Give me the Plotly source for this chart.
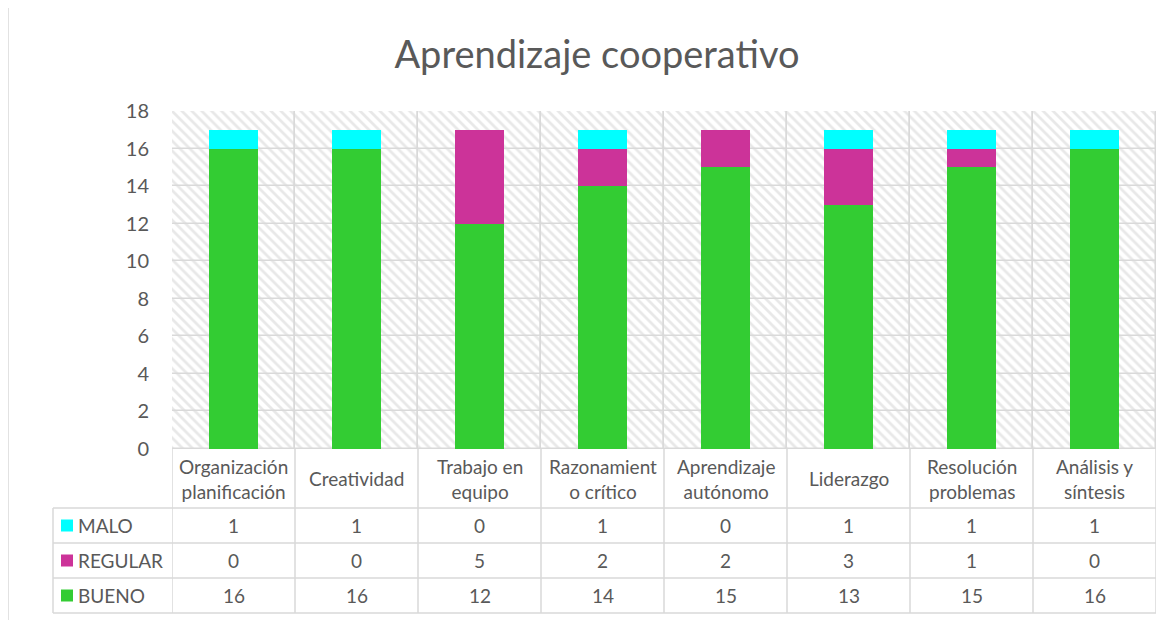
import plotly.graph_objects as go

categories = ["Organización<br>planificación", "Creatividad", "Trabajo en<br>equipo",
              "Razonamient<br>o crítico", "Aprendizaje<br>autónomo", "Liderazgo",
              "Resolución<br>problemas", "Análisis y<br>síntesis"]
malo = [1, 1, 0, 1, 0, 1, 1, 1]
regular = [0, 0, 5, 2, 2, 3, 1, 0]
bueno = [16, 16, 12, 14, 15, 13, 15, 16]
series_names = ["MALO", "REGULAR", "BUENO"]
colors = {"MALO": "#00FFFF", "REGULAR": "#CC3399", "BUENO": "#33CC33"}
y_ticks = [0, 2, 4, 6, 8, 10, 12, 14, 16, 18]

W, H = 1172, 620
OFF = 8  # page body margin offset
PL, PR, PT, PB = 172 - OFF, 1156 - OFF, 111 - OFF, 449 - OFF  # plot area pixels (figure coords)
FONT = "Lato"
GRAY = "#595959"
LINE = "#d9d9d9"


def px(xp):
    return (xp - OFF - PL) / (PR - PL)


def py(yp):
    return (PB - (yp - OFF)) / (PB - PT)


n = len(categories)
xs = list(range(n))

fig = go.Figure()

# hatched background grid cells
step = y_ticks[1] - y_ticks[0]
bx, bbase = [], []
for i in xs:
    for b in y_ticks[:-1]:
        bx.append(i)
        bbase.append(b)
fig.add_trace(go.Bar(
    x=bx, y=[step] * len(bx), base=bbase, width=1,
    marker=dict(color="white", line=dict(color=LINE, width=1.5),
                pattern=dict(shape="\\", fgcolor="#d2d2d2", bgcolor="white",
                             size=7, solidity=0.4)),
    hoverinfo="skip", showlegend=False))

base_reg = bueno
base_malo = [b + r for b, r in zip(bueno, regular)]
fig.add_trace(go.Bar(x=xs, y=bueno, base=[0] * n, width=0.4, name="BUENO",
                     marker=dict(color=colors["BUENO"], line=dict(width=0)), showlegend=False))
fig.add_trace(go.Bar(x=xs, y=regular, base=base_reg, width=0.4, name="REGULAR",
                     marker=dict(color=colors["REGULAR"], line=dict(width=0)), showlegend=False))
fig.add_trace(go.Bar(x=xs, y=malo, base=base_malo, width=0.4, name="MALO",
                     marker=dict(color=colors["MALO"], line=dict(width=0)), showlegend=False))

shapes = []
annotations = []

# table geometry (reference pixels)
row_lines = [449, 508, 543, 578, 613]
tbl_left = 53
tbl_right = 1156
lw = 1.5
for yp in row_lines[1:]:
    shapes.append(dict(type="line", xref="paper", yref="paper", x0=px(tbl_left), x1=px(tbl_right),
                       y0=py(yp), y1=py(yp), line=dict(color=LINE, width=lw)))
for i in range(n + 1):
    shapes.append(dict(type="line", xref="x", yref="paper", x0=i - 0.5, x1=i - 0.5,
                       y0=py(row_lines[0]), y1=py(row_lines[-1]), line=dict(color=LINE, width=lw)))
shapes.append(dict(type="line", xref="paper", yref="paper", x0=px(tbl_left), x1=px(tbl_left),
                   y0=py(row_lines[1]), y1=py(row_lines[-1]), line=dict(color=LINE, width=lw)))

# outer chart frame
shapes.append(dict(type="rect", xref="paper", yref="paper", x0=px(8), x1=px(W + 40),
                   y0=py(6), y1=py(H + 40), line=dict(color=LINE, width=1.5),
                   fillcolor="rgba(0,0,0,0)", layer="below"))

TSIZE = 19
mid0 = py((row_lines[0] + row_lines[1]) / 2)
for i, c in enumerate(categories):
    annotations.append(dict(x=i, y=mid0, xref="x", yref="paper", text=c, showarrow=False,
                            font=dict(family=FONT, size=TSIZE, color=GRAY), align="center",
                            yanchor="middle"))

rows = {"MALO": malo, "REGULAR": regular, "BUENO": bueno}
for r, name in enumerate(series_names):
    ymid = py((row_lines[r + 1] + row_lines[r + 2]) / 2)
    for i, v in enumerate(rows[name]):
        annotations.append(dict(x=i, y=ymid, xref="x", yref="paper", text=str(v), showarrow=False,
                                font=dict(family=FONT, size=TSIZE, color=GRAY), yanchor="middle"))
    shapes.append(dict(type="rect", xref="paper", yref="paper", x0=px(61), x1=px(73),
                       y0=ymid - 6 / (PB - PT), y1=ymid + 6 / (PB - PT),
                       fillcolor=colors[name], line=dict(width=0)))
    annotations.append(dict(x=px(76), y=ymid, xref="paper", yref="paper", text=name, showarrow=False,
                            xanchor="left", yanchor="middle",
                            font=dict(family=FONT, size=TSIZE, color=GRAY)))

fig.update_layout(
    width=W, height=H,
    margin=dict(l=PL, r=W - PR, t=PT, b=H - PB, pad=0),
    barmode="overlay",
    bargap=0,
    plot_bgcolor="white", paper_bgcolor="white",
    title=dict(text="Aprendizaje cooperativo", x=(597 - OFF) / W, xanchor="center", xref="container",
               y=1 - (55 - OFF) / H, yanchor="middle", yref="container",
               font=dict(family=FONT, size=38, color=GRAY)),
    xaxis=dict(range=[-0.5, n - 0.5], showticklabels=False, showgrid=False, zeroline=False,
               showline=False, ticks=""),
    yaxis=dict(range=[y_ticks[0], y_ticks[-1]], tickvals=y_ticks, showgrid=False, zeroline=False,
               showline=False, ticks="", ticklabelstandoff=22,
               tickfont=dict(family=FONT, size=20, color=GRAY)),
    shapes=shapes, annotations=annotations,
    font=dict(family=FONT, color=GRAY),
)

fig.write_html("out.html")
